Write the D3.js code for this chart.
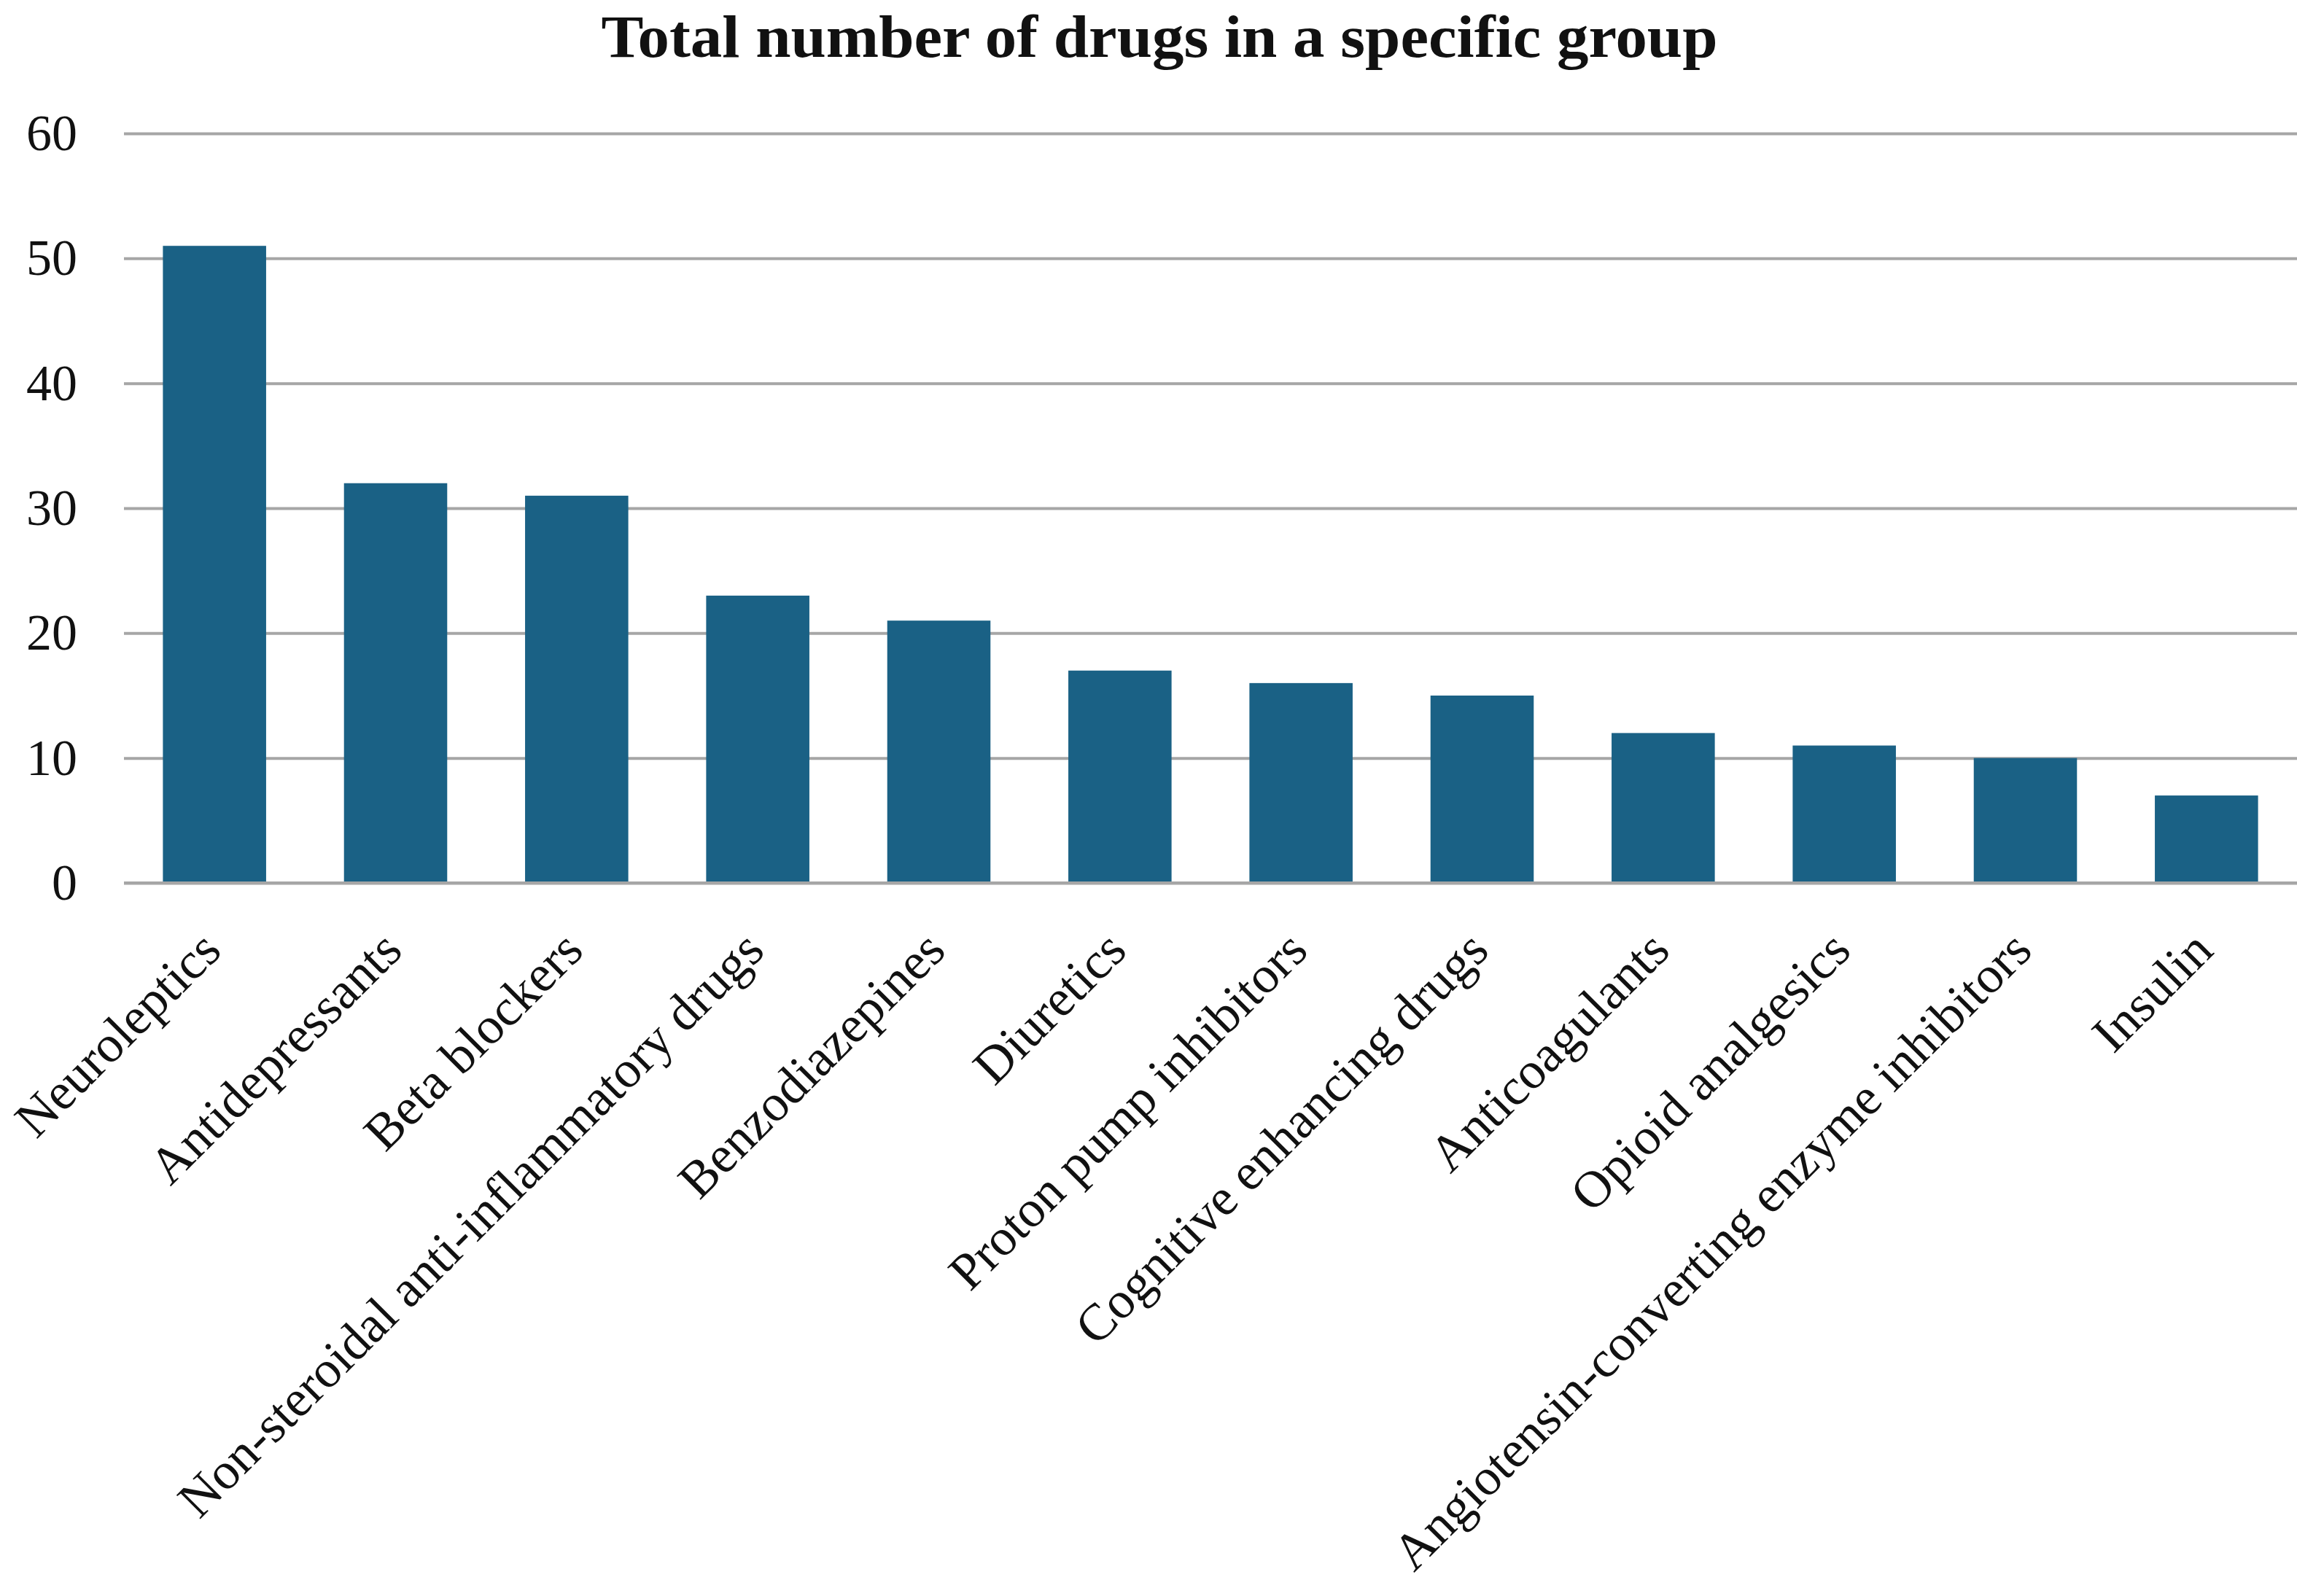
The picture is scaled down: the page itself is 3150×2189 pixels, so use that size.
<!DOCTYPE html>
<html>
<head>
<meta charset="utf-8">
<script src="https://cdn.jsdelivr.net/npm/d3@7"></script>
<style>
  body { margin: 0; background: #fff; }
  svg { display: block; }
</style>
</head>
<body>
<div id="chart"></div>
<script>
// data
const categories = [
  "Neuroleptics",
  "Antidepressants",
  "Beta blockers",
  "Non-steroidal anti-inflammatory drugs",
  "Benzodiazepines",
  "Diuretics",
  "Proton pump inhibitors",
  "Cognitive enhancing drugs",
  "Anticoagulants",
  "Opioid analgesics",
  "Angiotensin-converting enzyme inhibitors",
  "Insulin"
];
const values = [51, 32, 31, 23, 21, 17, 16, 15, 12, 11, 10, 7];
const yTicks = [0, 10, 20, 30, 40, 50, 60];
const title = "Total number of drugs in a specific group";

const width = 3150, height = 2189;
const margin = { top: 183, right: 0, bottom: 978, left: 170 };
const font = "'Liberation Serif', 'Times New Roman', serif";

const svg = d3.select("#chart").append("svg")
    .attr("width", width)
    .attr("height", height);

svg.append("rect")
    .attr("width", width)
    .attr("height", height)
    .attr("fill", "#fff");

const x = d3.scaleBand()
    .domain(categories)
    .range([margin.left, width - margin.right])
    .paddingInner(0.43)
    .paddingOuter(0.215);

const y = d3.scaleLinear()
    .domain([0, 60])
    .range([height - margin.bottom, margin.top]);

// gridlines + y labels
const yAxis = svg.append("g")
    .attr("transform", `translate(${margin.left},0)`)
    .call(d3.axisLeft(y)
        .tickValues(yTicks)
        .tickSize(-(width - margin.left - margin.right))
        .tickPadding(64));

yAxis.select(".domain").remove();
yAxis.selectAll(".tick line")
    .attr("stroke", "#a6a6a6")
    .attr("stroke-width", 4);
yAxis.selectAll(".tick text")
    .attr("font-family", font)
    .attr("font-size", 70)
    .attr("fill", "#111");

// bars
svg.append("g")
    .selectAll("rect")
    .data(values)
    .enter()
    .append("rect")
    .attr("x", (d, i) => x(categories[i]))
    .attr("y", d => y(d))
    .attr("width", x.bandwidth())
    .attr("height", d => y(0) - y(d))
    .attr("fill", "#1a6185");

// baseline drawn over bars
svg.append("line")
    .attr("x1", margin.left)
    .attr("x2", width - margin.right)
    .attr("y1", y(0))
    .attr("y2", y(0))
    .attr("stroke", "#a6a6a6")
    .attr("stroke-width", 4);

// x labels, rotated
const xAxis = svg.append("g")
    .attr("transform", `translate(0,${y(0)})`)
    .call(d3.axisBottom(x).tickSize(0).tickPadding(0));

xAxis.select(".domain").remove();
xAxis.selectAll(".tick text")
    .attr("font-family", font)
    .attr("font-size", 71)
    .attr("fill", "#111")
    .attr("text-anchor", "end")
    .attr("dy", 0)
    .attr("y", 0)
    .attr("transform", "translate(12,96) rotate(-45)");

// title
svg.append("text")
    .attr("x", 1590)
    .attr("y", 78)
    .attr("text-anchor", "middle")
    .attr("font-family", font)
    .attr("font-weight", "bold")
    .attr("font-size", 82)
    .attr("textLength", 1531)
    .attr("lengthAdjust", "spacingAndGlyphs")
    .attr("fill", "#111")
    .text(title);
</script>
</body>
</html>
